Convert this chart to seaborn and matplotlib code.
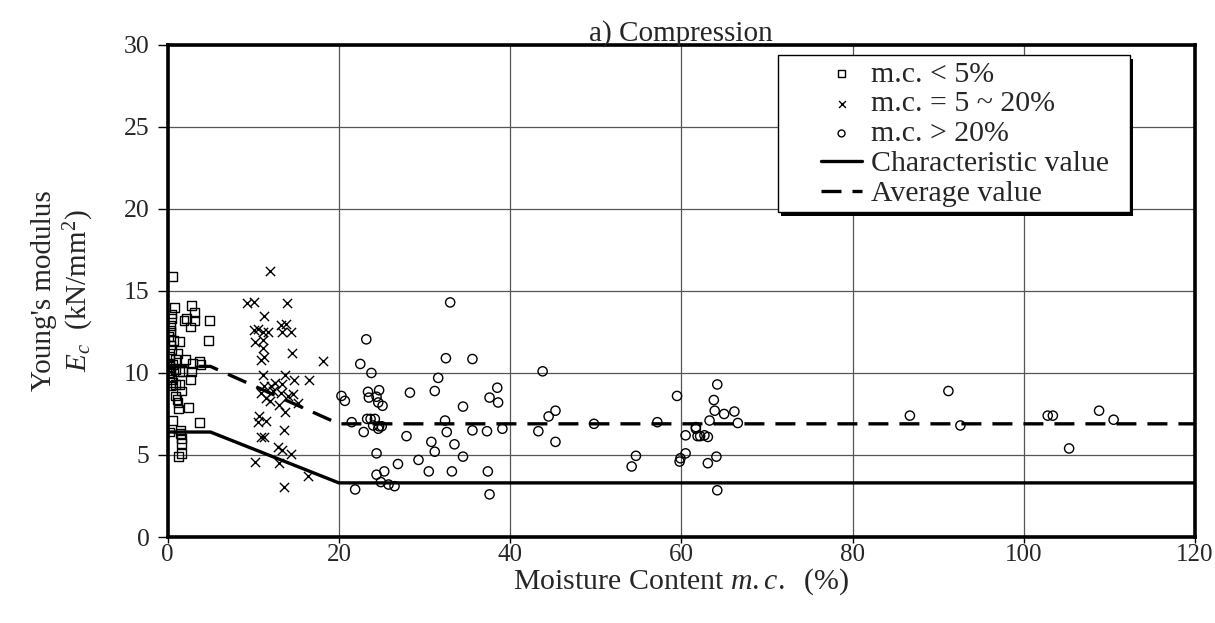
import matplotlib
matplotlib.use("Agg")
import matplotlib.pyplot as plt
from matplotlib.patches import Rectangle
import seaborn as sns

# m.c. < 5%
sq_x = [0.6, 0.8, 2.8, 3.1, 0.5, 0.5, 0.4, 0.4, 1.9, 2.2, 3.1, 2.7, 4.9, 4.8, 0.3, 0.7,
        1.4, 0.5, 1.2, 2.1, 0.9, 3.7, 3.9, 0.2, 0.4, 0.9, 1.4, 1.7, 2.9, 2.8, 2.7, 0.2,
        0.5, 0.6, 0.9, 1.4, 1.6, 0.9, 1.1, 1.2, 1.3, 2.4, 0.6, 3.7, 0.2, 1.5, 1.5, 1.6,
        1.6, 1.6, 1.3, 0.2, 0.1, 0.3, 0.1, 0.4, 0.2, 0.6]
sq_y = [15.9, 14.0, 14.1, 13.7, 13.6, 13.3, 12.9, 12.6, 13.2, 13.3, 13.2, 12.8, 13.2, 12.0, 12.5, 12.0,
        11.9, 11.4, 11.2, 10.8, 10.8, 10.7, 10.5, 10.6, 10.3, 10.2, 10.1, 10.1, 10.6, 10.1, 9.6, 9.8,
        9.6, 9.4, 9.3, 9.3, 8.9, 8.6, 8.4, 8.2, 7.8, 7.9, 7.1, 7.0, 6.4, 6.5, 6.3, 6.0,
        5.7, 5.1, 4.9, 11.0, 10.0, 9.2, 12.2, 11.7, 10.4, 10.5]

# m.c. = 5 ~ 20%
cr_x = [11.9, 9.3, 10.1, 13.9, 11.2, 10.1, 10.6, 11.1, 11.7, 13.2, 13.8, 13.4, 14.4, 10.2, 11.1, 11.1,
        11.3, 10.9, 14.5, 18.1, 11.1, 13.7, 12.5, 13.3, 11.3, 12.1, 14.8, 16.5, 13.2, 14.6, 15.2, 10.9,
        11.5, 11.9, 13.0, 13.7, 10.7, 11.5, 10.5, 13.6, 10.9, 11.3, 12.9, 13.3, 14.4, 10.2, 13.0, 16.4,
        13.6, 14.0, 12.3]
cr_y = [16.2, 14.25, 14.3, 14.25, 13.5, 12.6, 12.7, 12.5, 12.5, 12.9, 13.0, 12.5, 12.5, 11.9, 12.0, 11.5,
        11.0, 10.8, 11.2, 10.75, 9.9, 9.9, 9.4, 9.3, 9.2, 9.2, 9.6, 9.55, 8.8, 8.7, 8.15, 8.8,
        8.5, 8.3, 8.05, 7.65, 7.4, 7.1, 7.0, 6.5, 6.1, 6.1, 5.5, 5.3, 5.05, 4.6, 4.5, 3.7,
        3.05, 8.6, 8.9]

# m.c. > 20%
ci_x = [33.0, 23.2, 32.5, 35.6, 22.5, 23.8, 31.6, 20.3, 20.7, 23.4, 24.7, 23.5, 24.4, 24.6, 25.1, 28.3,
        31.2, 38.5, 37.6, 38.6, 34.5, 21.5, 23.3, 23.7, 24.2, 24.7, 25.0, 24.0, 24.6, 22.9, 32.4, 32.6,
        35.6, 37.3, 39.1, 27.9, 30.8, 31.2, 33.5, 34.5, 24.4, 26.9, 29.3, 25.3, 24.4, 24.9, 30.5, 33.2,
        37.4, 25.8, 26.5, 21.9, 37.6,
        43.8, 45.3, 44.5, 43.3, 45.3, 49.8, 57.2, 54.7, 54.2, 59.5, 60.5, 60.5, 59.9, 59.8, 61.7, 61.9,
        62.2, 62.7, 63.1, 64.2, 63.8, 63.9, 63.3, 65.0, 64.1, 63.1, 64.2, 66.2, 66.6, 61.7,
        86.7, 91.2, 92.6, 102.8, 103.4, 108.8, 110.5, 105.3]
ci_y = [14.3, 12.05, 10.9, 10.85, 10.55, 10.0, 9.7, 8.6, 8.3, 8.85, 8.95, 8.5, 8.55, 8.2, 8.0, 8.8,
        8.9, 9.1, 8.5, 8.2, 7.95, 7.0, 7.2, 7.2, 7.2, 6.75, 6.75, 6.8, 6.6, 6.4, 7.1, 6.4,
        6.5, 6.45, 6.6, 6.15, 5.8, 5.2, 5.65, 4.9, 5.1, 4.45, 4.7, 4.0, 3.8, 3.35, 4.0, 4.0,
        4.0, 3.2, 3.1, 2.9, 2.6,
        10.1, 7.7, 7.35, 6.45, 5.8, 6.9, 7.0, 4.95, 4.3, 8.6, 6.2, 5.1, 4.8, 4.6, 6.6, 6.15,
        6.15, 6.2, 6.1, 9.3, 8.35, 7.7, 7.1, 7.5, 4.9, 4.5, 2.85, 7.65, 6.95, 6.7,
        7.4, 8.9, 6.8, 7.4, 7.4, 7.7, 7.15, 5.4]

# characteristic and average value lines
line_x = [0, 5, 20, 120]
char_y = [6.4, 6.4, 3.3, 3.3]
avg_y = [10.4, 10.4, 6.9, 6.9]

sns.set_style("white")
plt.rcParams["font.family"] = ["Liberation Serif", "DejaVu Serif"]
plt.rcParams["mathtext.fontset"] = "custom"
plt.rcParams["mathtext.rm"] = "Liberation Serif"
plt.rcParams["mathtext.it"] = "Liberation Serif:italic"

fig = plt.figure(figsize=(12.15, 6.23), dpi=100)
ax = fig.add_axes([0.138, 0.138, 0.8455, 0.790])

sns.scatterplot(x=sq_x, y=sq_y, marker="s", s=40, facecolor="none", edgecolor="black",
                linewidth=1.0, label="m.c. < 5%", ax=ax, zorder=3)
sns.scatterplot(x=cr_x, y=cr_y, marker="x", s=44, color="black",
                linewidth=1.0, label="m.c. = 5 ~ 20%", ax=ax, zorder=3)
sns.scatterplot(x=ci_x, y=ci_y, marker="o", s=44, facecolor="none", edgecolor="black",
                linewidth=1.0, label="m.c. > 20%", ax=ax, zorder=3)
sns.lineplot(x=line_x, y=char_y, color="black", linewidth=2.4,
             label="Characteristic value", ax=ax, zorder=4)
sns.lineplot(x=line_x, y=avg_y, color="black", linewidth=2.4, dashes=False,
             label="Average value", ax=ax, zorder=4)
ax.lines[-1].set_dashes((6, 3.3))

ax.set_xlim(0, 120)
ax.set_ylim(0, 30)
ax.set_xticks(range(0, 121, 20))
ax.set_yticks(range(0, 31, 5))
ax.grid(True, color="#555555", linewidth=0.9)
ax.set_axisbelow(True)
for sp in ax.spines.values():
    sp.set_color("black")
    sp.set_linewidth(2.6)
ax.tick_params(axis="y", direction="out", length=7, width=1, color="black",
               labelsize=18.5, pad=6, left=True)
ax.tick_params(axis="x", direction="out", length=4, width=1, color="black",
               labelsize=18, pad=1, bottom=True)

ax.set_xlabel("Moisture Content $m.c.$  (%)", fontsize=21.5, labelpad=0)
ax.set_ylabel("Young's modulus\n$E_c$  (kN/mm$^2$)", fontsize=21, labelpad=20,
              linespacing=1.2)
ax.set_title("a) Compression", fontsize=21, pad=3)

# legend box with a solid black shadow, like the original
ax.add_patch(Rectangle((0.597, 0.653), 0.343, 0.319, transform=ax.transAxes,
                       facecolor="black", edgecolor="none", zorder=5))
ax.add_patch(Rectangle((0.594, 0.661), 0.343, 0.319, transform=ax.transAxes,
                       facecolor="white", edgecolor="black", linewidth=1.0, zorder=6))

leg = ax.legend(loc="upper right", bbox_to_anchor=(0.916, 0.968), fontsize=21.5,
                frameon=False, handlelength=1.35, handletextpad=0.3, labelspacing=0.1,
                borderpad=0.0, borderaxespad=0.0, markerscale=0.75)
leg.set_zorder(7)

fig.savefig("out.png", dpi=100)
